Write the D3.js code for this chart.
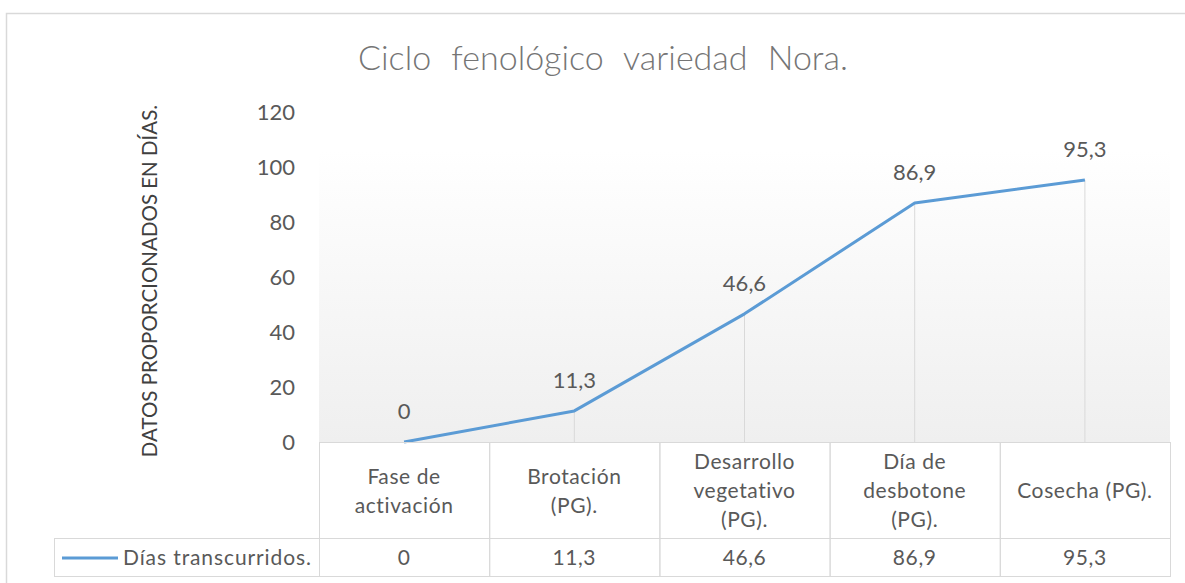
<!DOCTYPE html>
<html lang="es">
<head>
<meta charset="UTF-8">
<title>Ciclo fenológico variedad Nora.</title>
<style>
  body { margin: 0; background: #fff; }
  svg text { font-family: Lato, "Open Sans", sans-serif; }
  .frame { fill: #fff; stroke: #d9d9d9; stroke-width: 1.5; }
  .tick text { fill: #595959; font-size: 22px; }
  .cell { fill: none; stroke: #d9d9d9; stroke-width: 1; }
  .cellText { fill: #595959; font-size: 21px; letter-spacing: 0.6px; }
</style>
</head>
<body>
<svg id="chart"></svg>
<script src="https://cdn.jsdelivr.net/npm/d3@7"></script>
<script>
// chart data
const categories = [
  ["Fase de", "activación"],
  ["Brotación", "(PG)."],
  ["Desarrollo", "vegetativo", "(PG)."],
  ["Día de", "desbotone", "(PG)."],
  ["Cosecha (PG)."]
];
const values = [0, 11.3, 46.6, 86.9, 95.3];
const yTicks = [0, 20, 40, 60, 80, 100, 120];
const seriesName = "Días transcurridos.";
const chartTitle = "Ciclo fenológico variedad Nora.";
const yTitle = "DATOS PROPORCIONADOS EN DÍAS.";

const width = 1185, height = 583;
const plot = { left: 319, right: 1170, top: 112, bottom: 442 };
const headerBottom = 538, tableBottom = 576, legendLeft = 54;
const lineColor = "#5b9bd5";

const fmt = v => String(v).replace(".", ",");

const svg = d3.select("#chart")
  .attr("width", width)
  .attr("height", height);

svg.append("rect")
  .attr("class", "frame")
  .attr("x", 6.5).attr("y", 13.5)
  .attr("width", 1195).attr("height", 590);

// plot background gradient
const defs = svg.append("defs");
const grad = defs.append("linearGradient")
  .attr("id", "bg").attr("x1", 0).attr("y1", 0).attr("x2", 0).attr("y2", 1);
grad.append("stop").attr("offset", "0%").attr("stop-color", "#ffffff");
grad.append("stop").attr("offset", "100%").attr("stop-color", "#efefef");

const x = d3.scaleBand()
  .domain(d3.range(categories.length))
  .range([plot.left, plot.right]);

const y = d3.scaleLinear()
  .domain([0, 120])
  .range([plot.bottom, plot.top]);

svg.append("rect")
  .attr("x", plot.left)
  .attr("y", y(100) - 17)
  .attr("width", plot.right - plot.left)
  .attr("height", plot.bottom - y(100) + 17)
  .attr("fill", "url(#bg)");

// title
svg.append("text")
  .attr("x", 603)
  .attr("y", 70)
  .attr("text-anchor", "middle")
  .style("font-size", "34px")
  .style("font-weight", 300)
  .style("word-spacing", "11px")
  .attr("fill", "#757575")
  .text(chartTitle);

// y axis
const yAxis = d3.axisLeft(y).tickValues(yTicks).tickSize(0).tickPadding(24);
svg.append("g")
  .attr("transform", "translate(" + plot.left + ",0)")
  .call(yAxis)
  .call(g => g.select(".domain").remove())
  .selectAll(".tick text").attr("dy", "0.35em");

svg.append("text")
  .attr("transform", "translate(157," + 281 + ") rotate(-90)")
  .attr("text-anchor", "middle")
  .style("font-size", "20.5px")
  .attr("fill", "#404040")
  .text(yTitle);

// drop lines
svg.selectAll(".drop")
  .data(values)
  .enter().append("line")
  .attr("class", "drop")
  .attr("x1", (d, i) => x(i) + x.bandwidth() / 2)
  .attr("x2", (d, i) => x(i) + x.bandwidth() / 2)
  .attr("y1", d => y(d))
  .attr("y2", plot.bottom)
  .attr("stroke", "#d9d9d9")
  .attr("stroke-width", 1);

// series line
const line = d3.line()
  .x((d, i) => x(i) + x.bandwidth() / 2)
  .y(d => y(d));

svg.append("path")
  .datum(values)
  .attr("d", line)
  .attr("fill", "none")
  .attr("stroke", lineColor)
  .attr("stroke-width", 3)
  .attr("stroke-linejoin", "round");

// data labels
svg.selectAll(".lbl")
  .data(values)
  .enter().append("text")
  .attr("class", "lbl")
  .attr("x", (d, i) => x(i) + x.bandwidth() / 2)
  .attr("y", d => y(d) - 23)
  .attr("text-anchor", "middle")
  .style("font-size", "22px")
  .attr("fill", "#595959")
  .text(d => fmt(d));

// data table
const table = svg.append("g");
categories.forEach((c, i) => {
  table.append("rect").attr("class", "cell")
    .attr("x", x(i) + 0.5).attr("y", plot.bottom + 0.5)
    .attr("width", x.bandwidth()).attr("height", headerBottom - plot.bottom);
  table.append("rect").attr("class", "cell")
    .attr("x", x(i) + 0.5).attr("y", headerBottom + 0.5)
    .attr("width", x.bandwidth()).attr("height", tableBottom - headerBottom);
  const t = table.append("text").attr("class", "cellText")
    .attr("text-anchor", "middle");
  const cy = (plot.bottom + headerBottom) / 2 - (c.length - 1) * 14.5;
  c.forEach((s, k) => {
    t.append("tspan")
      .attr("x", x(i) + x.bandwidth() / 2)
      .attr("y", cy + k * 29 + 8)
      .text(s);
  });
  table.append("text").attr("class", "cellText")
    .attr("x", x(i) + x.bandwidth() / 2)
    .attr("y", (headerBottom + tableBottom) / 2 + 8)
    .attr("text-anchor", "middle")
    .text(fmt(values[i]));
});

table.append("rect").attr("class", "cell")
  .attr("x", legendLeft + 0.5).attr("y", headerBottom + 0.5)
  .attr("width", plot.left - legendLeft).attr("height", tableBottom - headerBottom);
table.append("line")
  .attr("x1", 62).attr("x2", 118)
  .attr("y1", (headerBottom + tableBottom) / 2 + 1)
  .attr("y2", (headerBottom + tableBottom) / 2 + 1)
  .attr("stroke", lineColor).attr("stroke-width", 3);
table.append("text").attr("class", "cellText")
  .attr("x", 123)
  .attr("y", (headerBottom + tableBottom) / 2 + 8)
  .style("letter-spacing", "0.9px")
  .text(seriesName);
</script>
</body>
</html>
